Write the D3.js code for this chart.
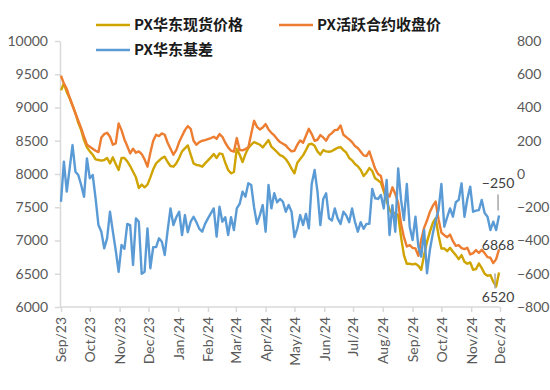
<!DOCTYPE html>
<html>
<head>
<meta charset="utf-8">
<script src="https://cdn.jsdelivr.net/npm/d3@7/dist/d3.min.js"></script>
<style>
  html, body { margin: 0; padding: 0; background: #ffffff; }
  svg { display: block; }
</style>
</head>
<body>
<svg id="chart" width="550" height="390"></svg>
<script>
// ---------------- DATA ----------------
const seriesNames = ["PX华东现货价格", "PX活跃合约收盘价", "PX华东基差"];

const dates = [
"2023-09-01","2023-09-04","2023-09-07","2023-09-10","2023-09-13","2023-09-16","2023-09-19","2023-09-22","2023-09-25","2023-09-28",
"2023-10-01","2023-10-04","2023-10-07","2023-10-10","2023-10-13","2023-10-16","2023-10-19","2023-10-22","2023-10-25","2023-10-28","2023-10-31",
"2023-11-03","2023-11-06","2023-11-09","2023-11-12","2023-11-15","2023-11-18","2023-11-21","2023-11-24","2023-11-27","2023-11-30",
"2023-12-03","2023-12-06","2023-12-09","2023-12-12","2023-12-15","2023-12-18","2023-12-21","2023-12-24","2023-12-27","2023-12-30",
"2024-01-02","2024-01-05","2024-01-08","2024-01-11","2024-01-14","2024-01-17","2024-01-20","2024-01-23","2024-01-26","2024-01-29",
"2024-02-01","2024-02-04","2024-02-07","2024-02-10","2024-02-13","2024-02-16","2024-02-19","2024-02-22","2024-02-25","2024-02-28",
"2024-03-02","2024-03-05","2024-03-08","2024-03-11","2024-03-14","2024-03-17","2024-03-20","2024-03-23","2024-03-26","2024-03-29",
"2024-04-01","2024-04-04","2024-04-07","2024-04-10","2024-04-13","2024-04-16","2024-04-19","2024-04-22","2024-04-25","2024-04-28",
"2024-05-01","2024-05-04","2024-05-07","2024-05-10","2024-05-13","2024-05-16","2024-05-19","2024-05-22","2024-05-25","2024-05-28","2024-05-31",
"2024-06-03","2024-06-06","2024-06-09","2024-06-12","2024-06-15","2024-06-18","2024-06-21","2024-06-24","2024-06-27","2024-06-30",
"2024-07-03","2024-07-06","2024-07-09","2024-07-12","2024-07-15","2024-07-18","2024-07-21","2024-07-24","2024-07-27","2024-07-30",
"2024-08-02","2024-08-05","2024-08-08","2024-08-11","2024-08-14","2024-08-17","2024-08-20","2024-08-23","2024-08-26","2024-08-29",
"2024-09-01","2024-09-04","2024-09-07","2024-09-10","2024-09-13","2024-09-16","2024-09-19","2024-09-22","2024-09-25","2024-09-28",
"2024-10-01","2024-10-04","2024-10-07","2024-10-10","2024-10-13","2024-10-16","2024-10-19","2024-10-22","2024-10-25","2024-10-28","2024-10-31",
"2024-11-03","2024-11-06","2024-11-09","2024-11-12","2024-11-15","2024-11-18","2024-11-21","2024-11-24","2024-11-27","2024-11-30"
];

// PX华东现货价格 (left axis)
const spotPrice = [
9260,9360,9230,9140,9030,8920,8770,8660,8510,8400,
8340,8290,8220,8210,8200,8210,8240,8160,8250,8150,
8060,8240,8240,8190,8120,8035,7950,7790,7840,7800,
7840,7950,8070,8160,8200,8240,8260,8180,8120,8110,
8160,8240,8340,8385,8430,8290,8160,8135,8130,8110,
8160,8205,8250,8300,8240,8310,8300,8170,8060,8010,
8030,8380,8290,8180,8300,8390,8440,8480,8460,8440,
8400,8455,8510,8410,8370,8330,8285,8265,8225,8160,
8080,8010,8170,8225,8280,8360,8445,8455,8425,8340,
8290,8360,8340,8335,8345,8370,8395,8405,8360,8320,
8240,8205,8150,8115,8060,7970,8020,8090,8045,7935,
7905,7870,7740,7600,7460,7390,7415,7380,7050,6780,
6650,6650,6640,6650,6620,6560,6780,6980,7130,7260,
7335,7080,6880,6880,6840,6890,6830,6780,6720,6780,
6680,6650,6670,6560,6570,6655,6585,6500,6470,6480,
6380,6310,6520
];

// PX活跃合约收盘价 (left axis)
const futuresClose = [
9480,9360,9280,9150,9030,8910,8800,8690,8560,8440,
8410,8380,8350,8330,8550,8600,8620,8560,8440,8460,
8760,8660,8520,8420,8310,8380,8320,8340,8300,8220,
8110,8320,8500,8590,8570,8610,8590,8470,8380,8290,
8360,8480,8570,8660,8720,8680,8500,8440,8480,8500,
8510,8525,8540,8560,8530,8600,8560,8470,8400,8350,
8335,8540,8360,8355,8375,8400,8600,8800,8710,8670,
8700,8750,8670,8620,8580,8525,8480,8455,8430,8380,
8340,8350,8440,8505,8470,8575,8680,8600,8500,8515,
8585,8550,8500,8580,8615,8660,8665,8730,8590,8555,
8520,8480,8420,8390,8335,8280,8270,8340,8210,8080,
8000,7970,7770,7710,7660,7800,7700,7565,7250,7050,
6910,6930,6890,6880,6770,7010,7190,7300,7430,7520,
7585,7320,7120,7080,7050,7090,6990,6920,6930,6885,
6870,6890,6790,6810,6855,6815,6860,6810,6750,6740,
6660,6720,6868
];

// PX华东基差 (right axis)
const basis = [
-167,74,-106,34,174,14,-6,-66,-137,94,
-26,-6,-146,-307,-347,-447,-387,-227,-347,-460,
-588,-427,-450,-300,-307,-547,-267,-287,-600,-588,
-327,-567,-440,-440,-387,-407,-487,-340,-207,-307,
-260,-227,-367,-247,-350,-287,-257,-290,-330,-347,
-300,-267,-237,-207,-377,-197,-287,-260,-367,-260,
-337,-207,-180,-106,-137,-56,-66,-200,-300,-247,
-187,-347,-66,-207,-116,-170,-150,-167,-227,-187,
-227,-380,-327,-247,-307,-240,-327,-60,24,-106,
-307,-150,-116,-267,-280,-207,-267,-300,-227,-250,
-290,-207,-287,-347,-290,-330,-300,-300,-90,-146,
-150,-126,-207,-36,-367,-187,-347,34,-156,-277,
-60,-317,-397,-257,-437,-497,-337,-597,-457,-360,
-280,-217,-60,-317,-260,-207,-257,-170,-156,-56,
-257,-150,-76,-227,-220,-217,-156,-235,-257,-337,
-287,-337,-250
];

const leftTicks = [6000,6500,7000,7500,8000,8500,9000,9500,10000];
const rightTicks = [-800,-600,-400,-200,0,200,400,600,800];
const monthTicks = ["2023-09-01","2023-10-01","2023-11-01","2023-12-01","2024-01-01","2024-02-01",
  "2024-03-01","2024-04-01","2024-05-01","2024-06-01","2024-07-01","2024-08-01","2024-09-01",
  "2024-10-01","2024-11-01","2024-12-01"];

// ---------------- CHART ----------------
const colors = { spot: "#D0A400", fut: "#ED7D31", basis: "#5B9BD5" };
const parse = d3.utcParse("%Y-%m-%d");
const svg = d3.select("#chart");
const numFont = "Lato, 'Open Sans', sans-serif";
const cjkFont = "'Noto Sans CJK SC', 'Noto Sans', sans-serif";

const x = d3.scaleUtc().domain([parse("2023-09-01"), parse("2024-12-01")]).range([61, 500]);
const yL = d3.scaleLinear().domain([6000, 10000]).range([307, 41]);
const yR = d3.scaleLinear().domain([-800, 800]).range([307, 41]);

const n = dates.length;
const mk = arr => dates.map((d, i) => ({ date: parse(d), v: arr[i] })).filter(d => d.v != null);
const spotData = mk(spotPrice), futData = mk(futuresClose), basisData = mk(basis);

// left axis
const gL = svg.append("g").attr("transform", "translate(60,0)")
  .call(d3.axisLeft(yL).tickValues(leftTicks).tickSize(5).tickSizeOuter(0).tickPadding(7).tickFormat(d3.format("d")));
gL.select(".domain").attr("stroke", "#D9D9D9").attr("stroke-width", 1.5);
gL.selectAll(".tick line").attr("stroke", "#D9D9D9").attr("stroke-width", 1.5);
gL.selectAll("text").attr("fill", "#595959").style("font-family", numFont).style("font-size", "14px");

// right axis
const gR = svg.append("g").attr("transform", "translate(515,0)")
  .call(d3.axisRight(yR).tickValues(rightTicks).tickSize(0).tickPadding(2).tickFormat(d3.format("d")));
gR.select(".domain").remove();
gR.selectAll("text").attr("fill", "#595959").style("font-family", numFont).style("font-size", "14px");

// bottom axis
const gB = svg.append("g").attr("transform", "translate(0,307)")
  .call(d3.axisBottom(x).tickValues(monthTicks.map(parse)).tickSize(5).tickSizeOuter(0)
    .tickFormat(d3.utcFormat("%b/%y")));
gB.select(".domain").attr("stroke", "#D9D9D9").attr("stroke-width", 1.5)
  .attr("d", `M${x.range()[0] - 1},0H${x.range()[1]}`);
gB.selectAll(".tick line").attr("stroke", "#D9D9D9").attr("stroke-width", 1.5);
gB.selectAll("text")
  .attr("transform", "rotate(-90)")
  .attr("x", -10).attr("y", 0).attr("dy", "0.35em")
  .style("text-anchor", "end")
  .attr("fill", "#595959").style("font-family", numFont).style("font-size", "14px");

// lines
const lineL = d3.line().x(d => x(d.date)).y(d => yL(d.v));
const lineR = d3.line().x(d => x(d.date)).y(d => yR(d.v));
svg.append("path").datum(spotData).attr("d", lineL).attr("fill", "none")
  .attr("stroke", colors.spot).attr("stroke-width", 2.4).attr("stroke-linejoin", "round");
svg.append("path").datum(futData).attr("d", lineL).attr("fill", "none")
  .attr("stroke", colors.fut).attr("stroke-width", 2.4).attr("stroke-linejoin", "round");
svg.append("path").datum(basisData).attr("d", lineR).attr("fill", "none")
  .attr("stroke", colors.basis).attr("stroke-width", 2.4).attr("stroke-linejoin", "round");

// end data labels
const lastS = spotData[spotData.length - 1], lastF = futData[futData.length - 1], lastB = basisData[basisData.length - 1];
const lbl = svg.append("g").style("font-family", numFont).style("font-size", "14px").attr("fill", "#404040");
// basis label
svg.append("line").attr("x1", x(lastB.date) - 1).attr("x2", x(lastB.date) - 1)
  .attr("y1", yR(lastB.v) - 21).attr("y2", yR(lastB.v) - 5).attr("stroke", "#A6A6A6").attr("stroke-width", 1.5);
lbl.append("text").attr("x", x(lastB.date) - 1).attr("y", yR(lastB.v) - 32).attr("dy", "0.35em")
  .attr("text-anchor", "middle").text(d3.format("d")(lastB.v));
// futures label
lbl.append("text").attr("x", x(lastF.date) - 1).attr("y", yL(lastF.v) - 4).attr("dy", "0.35em")
  .attr("text-anchor", "middle").text(d3.format("d")(lastF.v));
// spot label
svg.append("line").attr("x1", x(lastS.date) - 4).attr("x2", x(lastS.date) - 4)
  .attr("y1", yL(lastS.v) + 1).attr("y2", yL(lastS.v) + 16).attr("stroke", "#A6A6A6").attr("stroke-width", 1.5);
lbl.append("text").attr("x", x(lastS.date) - 1).attr("y", yL(lastS.v) + 25).attr("dy", "0.35em")
  .attr("text-anchor", "middle").text(d3.format("d")(lastS.v));

// legend
const legendItems = [
  { name: seriesNames[0], color: colors.spot, x: 96, y: 25 },
  { name: seriesNames[1], color: colors.fut, x: 279, y: 25 },
  { name: seriesNames[2], color: colors.basis, x: 96, y: 50 }
];
const lg = svg.append("g");
legendItems.forEach(it => {
  lg.append("line").attr("x1", it.x).attr("x2", it.x + 34).attr("y1", it.y).attr("y2", it.y)
    .attr("stroke", it.color).attr("stroke-width", 2.4);
  lg.append("text").attr("x", it.x + 38).attr("y", it.y).attr("dy", "0.36em")
    .style("font-family", cjkFont).style("font-size", "15px").style("font-weight", "bold")
    .attr("fill", "#1a1a1a").text(it.name);
});
</script>
</body>
</html>
